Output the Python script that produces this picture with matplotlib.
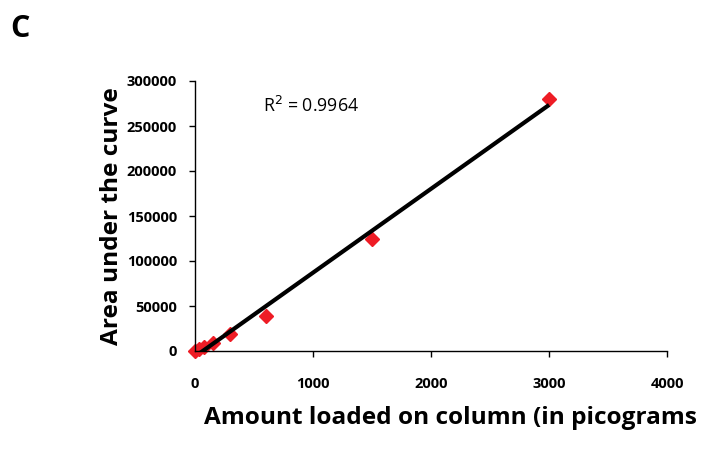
import numpy as np
from matplotlib import pyplot as plt

# amount loaded (pg) vs area under the curve
amount = [0, 37.5, 75, 150, 300, 600, 1500, 3000]
area = [0, 2000, 4500, 9000, 19000, 39000, 125000, 280000]
x_ticks = [0, 1000, 2000, 3000, 4000]
y_ticks = [0, 50000, 100000, 150000, 200000, 250000, 300000]

plt.rcParams['font.family'] = ['Open Sans', 'DejaVu Sans']

fig = plt.figure(figsize=(7.09, 4.5), dpi=100)
ax = fig.add_axes([0.275, 0.22, 0.666, 0.60])

ax.plot(amount, area, linestyle='none', marker='D', markersize=7.5,
        color='#ee1c25', zorder=2, clip_on=False)

slope, intercept = np.polyfit(amount, area, 1)
xx = np.array([min(amount), max(amount)])
ax.plot(xx, slope * xx + intercept, color='black', linewidth=3, zorder=3,
        solid_capstyle='butt')

ax.set_xlim(0, 4000)
ax.set_ylim(0, 300000)
ax.set_xticks(x_ticks)
ax.set_yticks(y_ticks)
ax.tick_params(direction='out', length=4, width=1, labelsize=10.5)
for lab in ax.get_xticklabels() + ax.get_yticklabels():
    lab.set_fontweight('bold')
ax.tick_params(axis='x', pad=15)
ax.tick_params(axis='y', pad=9)

for side in ['top', 'right']:
    ax.spines[side].set_visible(False)
for side in ['left', 'bottom']:
    ax.spines[side].set_linewidth(1)

ax.set_xlabel('Amount loaded on column (in picograms', fontsize=17.6,
              fontweight='bold')
ax.set_ylabel('Area under the curve', fontsize=17.6, fontweight='bold')
ax.xaxis.set_label_coords(0.54, -0.205)
ax.yaxis.set_label_coords(-0.15, 0.5)

ax.text(575, 272000, 'R$^2$ = 0.9964', fontsize=12.8, va='center', ha='left')
fig.text(0.015, 0.935, 'C', fontsize=22, fontweight='bold', va='center')

fig.savefig('out.png', dpi=100)
